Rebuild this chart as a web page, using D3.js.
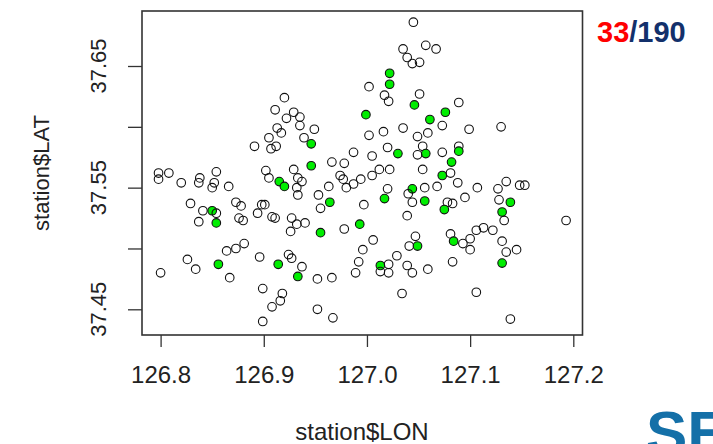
<!DOCTYPE html>
<html>
<head>
<meta charset="utf-8">
<script src="https://cdn.jsdelivr.net/npm/d3@7"></script>
<style>
  body { margin: 0; background: #fff; }
  svg { display: block; }
  text { font-family: "Liberation Sans", Arial, sans-serif; }
</style>
</head>
<body>
<svg id="chart" width="713" height="444"></svg>
<script>
// station coordinates, 1 = selected (green)
var lon = [
  126.920, 126.911, 126.922, 126.913, 126.917, 126.905, 126.891, 126.907, 126.912,
  127.045, 127.057, 127.035, 127.067, 127.039, 127.044, 127.051, 127.022, 127.022,
  127.002, 127.017, 127.021, 127.051, 127.046, 126.999, 127.061, 126.929, 126.935,
  126.935, 126.949, 126.939, 126.946, 127.035, 127.016, 127.002, 127.059, 127.049,
  127.054, 127.020, 127.030, 127.057, 127.049, 126.987, 127.005, 126.966, 126.978,
  126.946, 126.929, 127.012, 127.022, 127.054,
  127.089, 127.076, 127.073, 127.099, 127.130, 127.089, 127.089, 127.073, 127.082,
  127.073, 127.081,
  126.798, 126.798, 126.808, 126.820, 126.838, 126.837, 126.854, 126.852, 126.850,
  126.866, 126.902, 126.905, 126.915, 126.920, 126.829, 126.841, 126.850, 126.854,
  126.854, 126.837, 126.873, 126.878, 126.876, 126.880, 126.894, 126.898, 126.901,
  126.908, 126.911, 126.881, 126.873, 126.864, 126.896, 126.826, 126.834, 126.800,
  126.856, 126.867, 126.914, 126.899, 126.918, 126.916, 126.908, 126.899,
  126.933, 126.937, 126.932, 126.933, 126.974, 126.977, 126.980, 126.987, 126.994,
  127.005, 126.963, 126.953, 126.964, 126.955, 126.997, 127.020, 127.017, 127.044,
  127.056, 127.040, 127.044, 127.056, 127.039, 126.927, 126.940, 126.932, 126.926,
  126.955, 126.978, 126.993, 127.006, 126.996, 127.047, 127.041, 127.049, 127.029,
  126.992, 126.924, 126.927, 126.937, 126.933, 126.952, 126.966, 126.989, 127.013,
  127.021, 127.013, 127.021, 127.039, 127.044, 127.059, 127.034, 126.952, 126.967,
  127.068, 127.088, 127.107, 127.135, 127.127, 127.148, 127.153, 127.078, 127.083,
  127.075, 127.095, 127.128, 127.139, 127.131, 127.133, 127.193, 127.081, 127.084,
  127.093, 127.100, 127.100, 127.106, 127.113, 127.122, 127.131, 127.135, 127.145,
  127.131, 127.083, 127.106, 127.139
];
var lat = [
  37.624, 37.614, 37.607, 37.599, 37.595, 37.591, 37.584, 37.582, 37.584,
  37.686, 37.667, 37.664, 37.664, 37.657, 37.652, 37.653, 37.644, 37.635,
  37.633, 37.626, 37.621, 37.627, 37.618, 37.610, 37.606, 37.612, 37.608,
  37.601, 37.598, 37.591, 37.586, 37.599, 37.596, 37.593, 37.595, 37.592,
  37.584, 37.583, 37.578, 37.578, 37.577, 37.579, 37.576, 37.571, 37.570,
  37.568, 37.565, 37.565, 37.565, 37.565,
  37.620, 37.612, 37.601, 37.598, 37.600, 37.584, 37.580, 37.579, 37.571,
  37.560, 37.562,
  37.562, 37.557, 37.562, 37.554, 37.558, 37.554, 37.563, 37.554, 37.550,
  37.551, 37.564, 37.558, 37.555, 37.551, 37.537, 37.531, 37.531, 37.529,
  37.521, 37.522, 37.538, 37.535, 37.525, 37.523, 37.529, 37.536, 37.536,
  37.526, 37.525, 37.504, 37.500, 37.498, 37.493, 37.491, 37.483, 37.480,
  37.487, 37.476, 37.487, 37.467, 37.463, 37.457, 37.452, 37.440,
  37.558, 37.555, 37.550, 37.544, 37.560, 37.557, 37.550, 37.553, 37.557,
  37.560, 37.551, 37.544, 37.538, 37.533, 37.536, 37.549, 37.541, 37.549,
  37.550, 37.545, 37.538, 37.539, 37.527, 37.525, 37.521, 37.520, 37.514,
  37.513, 37.516, 37.520, 37.507, 37.499, 37.510, 37.502, 37.502, 37.494,
  37.489, 37.495, 37.492, 37.485, 37.477, 37.475, 37.476, 37.480, 37.486,
  37.487, 37.481, 37.480, 37.486, 37.480, 37.483, 37.463, 37.450, 37.443,
  37.551, 37.554, 37.550, 37.555, 37.549, 37.552, 37.552, 37.538, 37.537,
  37.532, 37.542, 37.540, 37.538, 37.530, 37.523, 37.523, 37.512, 37.506,
  37.504, 37.508, 37.499, 37.515, 37.517, 37.515, 37.506, 37.497, 37.499,
  37.488, 37.489, 37.464, 37.442
];
var picked = [
  0, 0, 0, 0, 0, 0, 0, 0, 0,
  0, 0, 0, 0, 0, 0, 0, 1, 1,
  0, 0, 0, 0, 1, 1, 1, 0, 0,
  0, 0, 0, 1, 0, 0, 0, 0, 0,
  0, 0, 1, 1, 0, 0, 0, 0, 0,
  1, 0, 0, 0, 0,
  0, 1, 0, 0, 0, 0, 1, 0, 1,
  1, 0,
  0, 0, 0, 0, 0, 0, 0, 0, 0,
  0, 0, 0, 1, 1, 0, 0, 1, 0,
  1, 0, 0, 0, 0, 0, 0, 0, 0,
  0, 0, 0, 0, 0, 0, 0, 0, 0,
  1, 0, 1, 0, 0, 0, 0, 0,
  0, 0, 0, 0, 0, 0, 0, 0, 0,
  0, 0, 0, 1, 0, 0, 0, 1, 1,
  0, 0, 0, 1, 0, 0, 0, 0, 0,
  1, 0, 1, 0, 0, 0, 0, 1, 0,
  0, 0, 0, 0, 1, 0, 0, 0, 1,
  0, 0, 0, 0, 0, 0, 0, 0, 0,
  0, 0, 0, 0, 0, 0, 0, 0, 0,
  1, 0, 0, 1, 1, 0, 0, 0, 1,
  0, 0, 0, 0, 0, 0, 0, 0, 0,
  1, 0, 0, 0
];
var xTicks = [126.8, 126.9, 127.0, 127.1, 127.2];
var yTicks = [37.45, 37.50, 37.55, 37.60, 37.65];
var yLabelled = [37.45, 37.55, 37.65];
var total = 190;

var svg = d3.select('#chart');

var x = d3.scaleLinear().domain([126.8, 127.2]).range([160.6, 573.3]);
var y = d3.scaleLinear().domain([37.45, 37.65]).range([309.3, 66]);

var box = { left: 142, right: 582.5, top: 11, bottom: 335 };

// x axis
var xAxis = svg.append('g')
    .attr('transform', 'translate(0,' + box.bottom + ')')
    .call(d3.axisBottom(x).tickValues(xTicks).tickFormat(d3.format('.1f'))
      .tickSize(12).tickSizeOuter(0).tickPadding(19))
xAxis.select('.domain').remove()
xAxis.selectAll('line').attr('stroke', '#333').attr('stroke-width', 1.3)
xAxis.selectAll('text').attr('font-size', 24).attr('fill', '#222')
  .attr('font-family', '"Liberation Sans", Arial, sans-serif')

// y axis, labels drawn rotated like base R
var yAxis = svg.append('g')
    .attr('transform', 'translate(' + box.left + ',0)')
    .call(d3.axisLeft(y).tickValues(yTicks).tickFormat('').tickSize(14).tickSizeOuter(0))
yAxis.select('.domain').remove()
yAxis.selectAll('line').attr('stroke', '#333').attr('stroke-width', 1.3)

svg.append('g').selectAll('text')
    .data(yLabelled)
  .enter().append('text')
    .attr('transform', function (d) { return 'translate(106,' + y(d) + ') rotate(-90)' })
    .attr('text-anchor', 'middle')
    .attr('font-size', 22)
    .attr('fill', '#222')
    .text(function (d) { return d3.format('.2f')(d) })

// plot frame
svg.append('rect')
    .attr('x', box.left).attr('y', box.top)
    .attr('width', box.right - box.left).attr('height', box.bottom - box.top)
    .attr('fill', 'none').attr('stroke', '#333').attr('stroke-width', 1.6)

// points
var pts = lon.map(function (d, i) { return { lon: d, lat: lat[i], sel: picked[i] } })
svg.append('g').selectAll('circle')
    .data(pts)
  .enter().append('circle')
    .attr('cx', function (d) { return x(d.lon) })
    .attr('cy', function (d) { return y(d.lat) })
    .attr('r', 4.3)
    .attr('fill', function (d) { return d.sel ? '#00ee00' : 'none' })
    .attr('stroke', '#111')
    .attr('stroke-width', 1.1)

// axis titles
svg.append('text')
    .attr('x', 362).attr('y', 440)
    .attr('text-anchor', 'middle')
    .attr('font-size', 24).attr('fill', '#222')
    .text('station$LON')

svg.append('text')
    .attr('transform', 'translate(49,173) rotate(-90)')
    .attr('text-anchor', 'middle')
    .attr('font-size', 22).attr('fill', '#222')
    .text('station$LAT')

// selected count
var nSel = d3.sum(picked)
var count = svg.append('text')
    .attr('x', 597).attr('y', 42)
    .attr('font-size', 29).attr('font-weight', 'bold')
count.append('tspan').attr('fill', '#ff0000').text(nSel)
count.append('tspan').attr('fill', '#13306b').text('/' + total)

// logo fragment in the corner, clipped by the page edge as in the source
svg.append('text')
    .attr('x', 646).attr('y', 454)
    .attr('font-size', 62).attr('font-weight', 'bold')
    .attr('fill', '#1470a8')
    .text('SE')
</script>
</body>
</html>
